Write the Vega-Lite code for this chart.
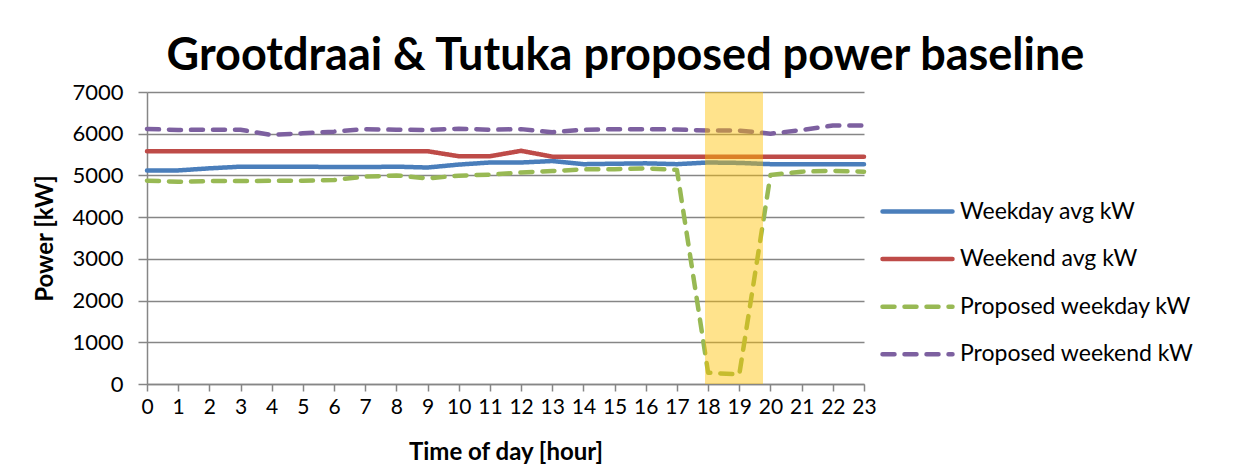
{
  "$schema": "https://vega.github.io/schema/vega-lite/v6.json",
  "autosize": {"type": "none"},
  "width": 717,
  "height": 292,
  "padding": {"left": 147, "top": 92, "right": 383, "bottom": 83},
  "background": "white",
  "config": {
    "view": {"stroke": null},
    "font": "Lato",
    "axis": {"labelFont": "Lato", "titleFont": "Lato", "labelColor": "black", "titleColor": "black"},
    "axisX": {
      "grid": false,
      "labelFontSize": 21,
      "labelFlush": false,
      "labelOverlap": false,
      "labelPadding": 5,
      "tickSize": 7,
      "tickColor": "#868686",
      "domainColor": "#868686",
      "domainWidth": 1.5,
      "tickWidth": 1.5,
      "titleFontSize": 24,
      "titleFontWeight": "bold",
      "titlePadding": 23
    },
    "axisY": {
      "grid": true,
      "gridColor": "#868686",
      "gridWidth": 1.5,
      "domainColor": "#868686",
      "domainWidth": 1.5,
      "tickColor": "#868686",
      "tickWidth": 1.5,
      "tickSize": 9,
      "labelFontSize": 22,
      "labelPadding": 15,
      "titleFontSize": 24,
      "titleFontWeight": "bold",
      "titlePadding": 14
    }
  },
  "title": {
    "text": "Grootdraai & Tutuka proposed power baseline",
    "font": "Lato",
    "fontSize": 45,
    "fontWeight": "bold",
    "color": "black",
    "anchor": "middle",
    "frame": "group",
    "dx": 120,
    "offset": 2
  },
  "datasets": {
    "series": [
      {"hour": 0, "Weekday avg kW": 5120, "Weekend avg kW": 5580, "Proposed weekday kW": 4875, "Proposed weekend kW": 6115},
      {"hour": 1, "Weekday avg kW": 5120, "Weekend avg kW": 5580, "Proposed weekday kW": 4850, "Proposed weekend kW": 6090},
      {"hour": 2, "Weekday avg kW": 5170, "Weekend avg kW": 5580, "Proposed weekday kW": 4865, "Proposed weekend kW": 6095},
      {"hour": 3, "Weekday avg kW": 5210, "Weekend avg kW": 5580, "Proposed weekday kW": 4865, "Proposed weekend kW": 6095},
      {"hour": 4, "Weekday avg kW": 5210, "Weekend avg kW": 5580, "Proposed weekday kW": 4870, "Proposed weekend kW": 5970},
      {"hour": 5, "Weekday avg kW": 5210, "Weekend avg kW": 5580, "Proposed weekday kW": 4875, "Proposed weekend kW": 6010},
      {"hour": 6, "Weekday avg kW": 5200, "Weekend avg kW": 5580, "Proposed weekday kW": 4890, "Proposed weekend kW": 6050},
      {"hour": 7, "Weekday avg kW": 5200, "Weekend avg kW": 5580, "Proposed weekday kW": 4970, "Proposed weekend kW": 6110},
      {"hour": 8, "Weekday avg kW": 5210, "Weekend avg kW": 5580, "Proposed weekday kW": 5000, "Proposed weekend kW": 6095},
      {"hour": 9, "Weekday avg kW": 5190, "Weekend avg kW": 5580, "Proposed weekday kW": 4930, "Proposed weekend kW": 6090},
      {"hour": 10, "Weekday avg kW": 5260, "Weekend avg kW": 5460, "Proposed weekday kW": 4995, "Proposed weekend kW": 6120},
      {"hour": 11, "Weekday avg kW": 5310, "Weekend avg kW": 5460, "Proposed weekday kW": 5020, "Proposed weekend kW": 6095},
      {"hour": 12, "Weekday avg kW": 5310, "Weekend avg kW": 5590, "Proposed weekday kW": 5070, "Proposed weekend kW": 6110},
      {"hour": 13, "Weekday avg kW": 5345, "Weekend avg kW": 5450, "Proposed weekday kW": 5105, "Proposed weekend kW": 6035},
      {"hour": 14, "Weekday avg kW": 5270, "Weekend avg kW": 5450, "Proposed weekday kW": 5145, "Proposed weekend kW": 6095},
      {"hour": 15, "Weekday avg kW": 5280, "Weekend avg kW": 5450, "Proposed weekday kW": 5150, "Proposed weekend kW": 6110},
      {"hour": 16, "Weekday avg kW": 5290, "Weekend avg kW": 5450, "Proposed weekday kW": 5170, "Proposed weekend kW": 6110},
      {"hour": 17, "Weekday avg kW": 5270, "Weekend avg kW": 5450, "Proposed weekday kW": 5130, "Proposed weekend kW": 6100},
      {"hour": 18, "Weekday avg kW": 5310, "Weekend avg kW": 5450, "Proposed weekday kW": 270, "Proposed weekend kW": 6075},
      {"hour": 19, "Weekday avg kW": 5300, "Weekend avg kW": 5450, "Proposed weekday kW": 230, "Proposed weekend kW": 6075},
      {"hour": 20, "Weekday avg kW": 5270, "Weekend avg kW": 5450, "Proposed weekday kW": 5010, "Proposed weekend kW": 6000},
      {"hour": 21, "Weekday avg kW": 5270, "Weekend avg kW": 5450, "Proposed weekday kW": 5090, "Proposed weekend kW": 6090},
      {"hour": 22, "Weekday avg kW": 5270, "Weekend avg kW": 5450, "Proposed weekday kW": 5110, "Proposed weekend kW": 6195},
      {"hour": 23, "Weekday avg kW": 5270, "Weekend avg kW": 5450, "Proposed weekday kW": 5090, "Proposed weekend kW": 6195}
    ],
    "highlight": [
      {"start": 17.9, "end": 19.76, "low": 0, "high": 7000}
    ]
  },
  "layer": [
    {
      "data": {"name": "series"},
      "transform": [
        {"fold": ["Weekday avg kW", "Weekend avg kW", "Proposed weekday kW", "Proposed weekend kW"], "as": ["series", "kw"]}
      ],
      "mark": {"type": "line", "strokeWidth": 4.5, "strokeCap": "round", "strokeJoin": "round"},
      "encoding": {
        "x": {
          "field": "hour", "type": "quantitative",
          "scale": {"domain": [0, 23], "nice": false, "zero": false},
          "axis": {
            "title": "Time of day [hour]",
            "values": [0,1,2,3,4,5,6,7,8,9,10,11,12,13,14,15,16,17,18,19,20,21,22,23]
          }
        },
        "y": {
          "field": "kw", "type": "quantitative",
          "scale": {"domain": [0, 7000], "nice": false},
          "axis": {
            "title": "Power [kW]",
            "values": [0,1000,2000,3000,4000,5000,6000,7000],
            "format": "d"
          }
        },
        "color": {
          "field": "series", "type": "nominal",
          "scale": {
            "domain": ["Weekday avg kW", "Weekend avg kW", "Proposed weekday kW", "Proposed weekend kW"],
            "range": ["#4A7EBB", "#BE4B48", "#98B954", "#7D60A0"]
          },
          "legend": {
            "title": null,
            "orient": "none",
            "legendX": 759,
            "legendY": 108,
            "symbolType": "M-7,0L7,0",
            "symbolSize": 100,
            "symbolStrokeWidth": 4.5,
            "labelFontSize": 23,
            "labelFont": "Lato",
            "labelColor": "black",
            "labelLimit": 400,
            "labelOffset": 31,
            "rowPadding": 23.6,
            "padding": 0,
            "encode": {"symbols": {"update": {"strokeCap": {"value": "round"}}}}
          }
        },
        "strokeDash": {
          "field": "series", "type": "nominal",
          "scale": {
            "domain": ["Weekday avg kW", "Weekend avg kW", "Proposed weekday kW", "Proposed weekend kW"],
            "range": [[1, 0], [1, 0], [12, 10], [12, 10]]
          },
          "legend": null
        }
      }
    },
    {
      "data": {"name": "highlight"},
      "mark": {"type": "rect", "color": "#FFC000", "opacity": 0.45},
      "encoding": {
        "x": {
          "field": "start", "type": "quantitative",
          "axis": {
            "title": "Time of day [hour]",
            "values": [0,1,2,3,4,5,6,7,8,9,10,11,12,13,14,15,16,17,18,19,20,21,22,23]
          }
        },
        "x2": {"field": "end"},
        "y": {
          "field": "low", "type": "quantitative",
          "axis": {
            "title": "Power [kW]",
            "values": [0,1000,2000,3000,4000,5000,6000,7000],
            "format": "d"
          }
        },
        "y2": {"field": "high"}
      }
    }
  ]
}
